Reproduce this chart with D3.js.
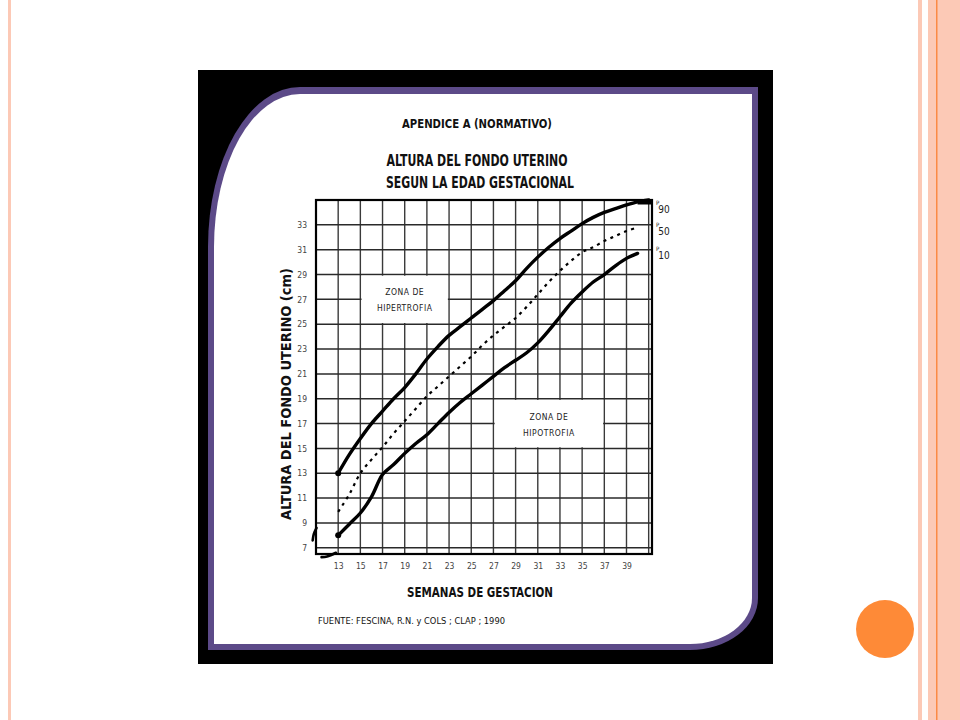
<!DOCTYPE html>
<html>
<head>
<meta charset="utf-8">
<script src="https://d3js.org/d3.v7.min.js"></script>
<style>
  body { margin: 0; background: #fff; }
  svg { display: block; }
  .cond { font-family: "Liberation Sans Narrow", "Arial Narrow", "DejaVu Sans Condensed", "Liberation Sans", sans-serif; }
</style>
</head>
<body>
<div id="chart"></div>
<script>
// Datos (semanas de gestacion -> altura uterina en cm)
var semanas = [13, 14, 15, 16, 17, 18, 19, 20, 21, 22, 23, 24, 25, 26, 27, 28, 29, 30, 31, 32, 33, 34, 35, 36, 37, 38, 39, 40, 41];
var p90 = [13.0, 14.5, 15.8, 17.0, 18.0, 19.0, 19.9, 21.0, 22.2, 23.2, 24.1, 24.8, 25.5, 26.2, 26.9, 27.7, 28.5, 29.5, 30.4, 31.2, 31.9, 32.5, 33.1, 33.6, 34.0, 34.3, 34.6, 34.85, 35.0];
var p50 = [9.9, 11.3, 13.0, 14.1, 15.1, 16.2, 17.2, 18.2, 19.2, 20.0, 20.8, 21.6, 22.4, 23.3, 24.1, 24.8, 25.5, 26.4, 27.4, 28.4, 29.3, 30.1, 30.8, 31.2, 31.7, 32.1, 32.5, 32.8];
var p10 = [8.0, 8.9, 9.8, 11.1, 12.9, 13.7, 14.6, 15.4, 16.1, 17.0, 17.9, 18.7, 19.4, 20.1, 20.8, 21.5, 22.1, 22.7, 23.5, 24.5, 25.6, 26.7, 27.6, 28.4, 29.0, 29.7, 30.3, 30.7];
var percentiles = ["90", "50", "10"];

// trazos sueltos fuera del marco (abajo a la izquierda)
var trazoA = [[11.05, 8.6], [10.8, 8.1], [10.7, 7.6]];
var trazoB = [[11.5, 6.25], [12.0, 6.3], [12.8, 6.6]];

var xTicks = [13, 15, 17, 19, 21, 23, 25, 27, 29, 31, 33, 35, 37, 39];
var xGrid = [13, 15, 17, 19, 21, 23, 25, 27, 29, 31, 33, 35, 37, 39, 41];
var yTicks = [7, 9, 11, 13, 15, 17, 19, 21, 23, 25, 27, 29, 31, 33];

// zonas: [semana ini, semana fin, cm bajo, cm alto]
var zonaHiper = [15, 23, 25, 29];
var zonaHipo = [27, 37, 15, 19];

var svgWidth = 960;
var svgHeight = 720;

var svg = d3.select("#chart")
    .append("svg")
    .attr("width", svgWidth)
    .attr("height", svgHeight);

// --- fondo de la diapositiva ---
var salmon = "#fcc9b6";
svg.append("rect").attr("x", 8).attr("y", 0).attr("width", 3).attr("height", svgHeight).attr("fill", salmon);
svg.append("rect").attr("x", 918).attr("y", 0).attr("width", 4).attr("height", svgHeight).attr("fill", salmon);
svg.append("rect").attr("x", 928).attr("y", 0).attr("width", 32).attr("height", svgHeight).attr("fill", salmon);
svg.append("rect").attr("x", 936).attr("y", 0).attr("width", 1.5).attr("height", svgHeight).attr("fill", "#fb8a45");
svg.append("circle").attr("cx", 885).attr("cy", 629).attr("r", 29).attr("fill", "#fe8a37");

// --- marco negro y morado ---
svg.append("rect").attr("x", 198).attr("y", 70).attr("width", 575).attr("height", 594).attr("fill", "#000");

function marco(l, t, r, b, rx1, ry1, rx2, ry2) {
    return "M" + (l + rx1) + "," + t +
        " L" + r + "," + t +
        " L" + r + "," + (b - ry2) +
        " A" + rx2 + "," + ry2 + " 0 0 1 " + (r - rx2) + "," + b +
        " L" + l + "," + b +
        " L" + l + "," + (t + ry1) +
        " A" + rx1 + "," + ry1 + " 0 0 1 " + (l + rx1) + "," + t + " Z";
}
svg.append("path").attr("d", marco(208, 87, 758, 650, 92, 160, 68, 52)).attr("fill", "#5c4a88");
svg.append("path").attr("d", marco(214, 94, 752, 644, 86, 153, 62, 46)).attr("fill", "#fff");

// --- area del grafico ---
var x = d3.scaleLinear().domain([11, 41.3]).range([316, 652]);
var y = d3.scaleLinear().domain([6.5, 35]).range([554, 200]);

var g = svg.append("g");

// rejilla
g.selectAll(".vgrid").data(xGrid).enter().append("line")
    .attr("x1", d => x(d)).attr("x2", d => x(d))
    .attr("y1", y(35)).attr("y2", y(6.5))
    .attr("stroke", "#3a3a3a").attr("stroke-width", 1.4);

g.selectAll(".hgrid").data(yTicks).enter().append("line")
    .attr("x1", x(11)).attr("x2", x(41.3))
    .attr("y1", d => y(d)).attr("y2", d => y(d))
    .attr("stroke", "#2a2a2a").attr("stroke-width", 1.5);

// recuadros blancos de las zonas
[zonaHiper, zonaHipo].forEach(function(z) {
    g.append("rect")
        .attr("x", x(z[0]) + 1.2)
        .attr("y", y(z[3]) + 1.2)
        .attr("width", x(z[1]) - x(z[0]) - 2.4)
        .attr("height", y(z[2]) - y(z[3]) - 2.4)
        .attr("fill", "#fff");
});

// marco
g.append("rect")
    .attr("x", x(11)).attr("y", y(35))
    .attr("width", x(41.3) - x(11)).attr("height", y(6.5) - y(35))
    .attr("fill", "none").attr("stroke", "#000").attr("stroke-width", 2.2);

// ejes (solo etiquetas)
var bottomAxis = d3.axisBottom(x).tickValues(xTicks).tickSize(0).tickPadding(9).tickFormat(d3.format("d"));
var leftAxis = d3.axisLeft(y).tickValues(yTicks).tickSize(0).tickPadding(9).tickFormat(d3.format("d"));

var ax = g.append("g").attr("transform", `translate(0, ${y(6.5)})`).call(bottomAxis);
var ay = g.append("g").attr("transform", `translate(${x(11)}, 0)`).call(leftAxis);
[ax, ay].forEach(function(a) {
    a.select(".domain").remove();
    a.selectAll("text").attr("class", "cond").attr("font-size", 8.5).attr("fill", "#444");
});

// curvas
var line = d3.line()
    .x(d => x(d[0]))
    .y(d => y(d[1]))
    .curve(d3.curveCatmullRom);

function pares(vals) {
    return vals.map((v, i) => [semanas[i], v]);
}
var series = [pares(p90), pares(p50), pares(p10)];

g.append("path").datum(series[0]).attr("d", line)
    .attr("fill", "none").attr("stroke", "#000").attr("stroke-width", 3.4).attr("stroke-linecap", "round");
g.append("path").datum(series[1]).attr("d", line)
    .attr("fill", "none").attr("stroke", "#000").attr("stroke-width", 2.2).attr("stroke-dasharray", "3,4.5");
g.append("path").datum(series[2]).attr("d", line)
    .attr("fill", "none").attr("stroke", "#000").attr("stroke-width", 3.4).attr("stroke-linecap", "round");

// tramo negro del P90 contra el borde superior
g.append("rect")
    .attr("x", x(40)).attr("y", y(35))
    .attr("width", x(41.3) - x(40)).attr("height", 4.5)
    .attr("fill", "#000");

// puntos iniciales
[series[0][0], series[2][0]].forEach(function(p) {
    g.append("circle").attr("cx", x(p[0])).attr("cy", y(p[1])).attr("r", 3).attr("fill", "#000");
});

[trazoA, trazoB].forEach(function(t) {
    g.append("path").datum(t).attr("d", line)
        .attr("fill", "none").attr("stroke", "#000").attr("stroke-width", 2.6).attr("stroke-linecap", "round");
});

// etiquetas de percentiles
var offsets = [10, 5, 3];
series.forEach(function(s, i) {
    var last = s[s.length - 1];
    var t = g.append("text").attr("class", "cond")
        .attr("x", x(41.3) + 4).attr("y", Math.max(y(last[1]), y(35)) + offsets[i] + 3)
        .attr("fill", "#222");
    t.append("tspan").attr("font-size", 6).attr("dy", -8).text("P");
    t.append("tspan").attr("font-size", 10).attr("dy", 8).attr("dx", -1).text(percentiles[i]);
});

// textos de las zonas
function zonaTexto(z, lineas) {
    var cx = x((z[0] + z[1]) / 2);
    var cy = y((z[2] + z[3]) / 2);
    lineas.forEach(function(l, i) {
        g.append("text").attr("class", "cond")
            .attr("x", cx).attr("y", cy - 4 + i * 16)
            .attr("text-anchor", "middle").attr("font-size", 8.5).attr("fill", "#222")
            .attr("letter-spacing", 0.5)
            .text(l);
    });
}
zonaTexto(zonaHiper, ["ZONA  DE", "HIPERTROFIA"]);
zonaTexto(zonaHipo, ["ZONA  DE", "HIPOTROFIA"]);

// titulos
function titulo(txt, cx, cy, size, len) {
    svg.append("text").attr("class", "cond")
        .attr("x", cx - len / 2).attr("y", cy)
        .attr("font-size", size).attr("font-weight", "bold").attr("fill", "#111")
        .attr("textLength", len).attr("lengthAdjust", "spacingAndGlyphs")
        .text(txt);
}
titulo("APENDICE A (NORMATIVO)", 477, 128, 13, 150);
titulo("ALTURA DEL FONDO UTERINO", 477, 166, 15, 181);
titulo("SEGUN LA EDAD GESTACIONAL", 480, 188, 15, 188);
titulo("SEMANAS DE GESTACION", 480, 597, 14.5, 146);

svg.append("text").attr("class", "cond")
    .attr("x", 318).attr("y", 624)
    .attr("font-size", 9).attr("fill", "#111")
    .attr("textLength", 187).attr("lengthAdjust", "spacingAndGlyphs")
    .text("FUENTE: FESCINA, R.N. y COLS ; CLAP ; 1990");

// titulo eje Y
svg.append("text").attr("class", "cond")
    .attr("transform", "translate(291, 394) rotate(-90)")
    .attr("x", -126).attr("y", 0)
    .attr("font-size", 14.5).attr("font-weight", "bold").attr("fill", "#111")
    .attr("textLength", 252).attr("lengthAdjust", "spacing")
    .text("ALTURA  DEL  FONDO  UTERINO  (cm)");
</script>
</body>
</html>
